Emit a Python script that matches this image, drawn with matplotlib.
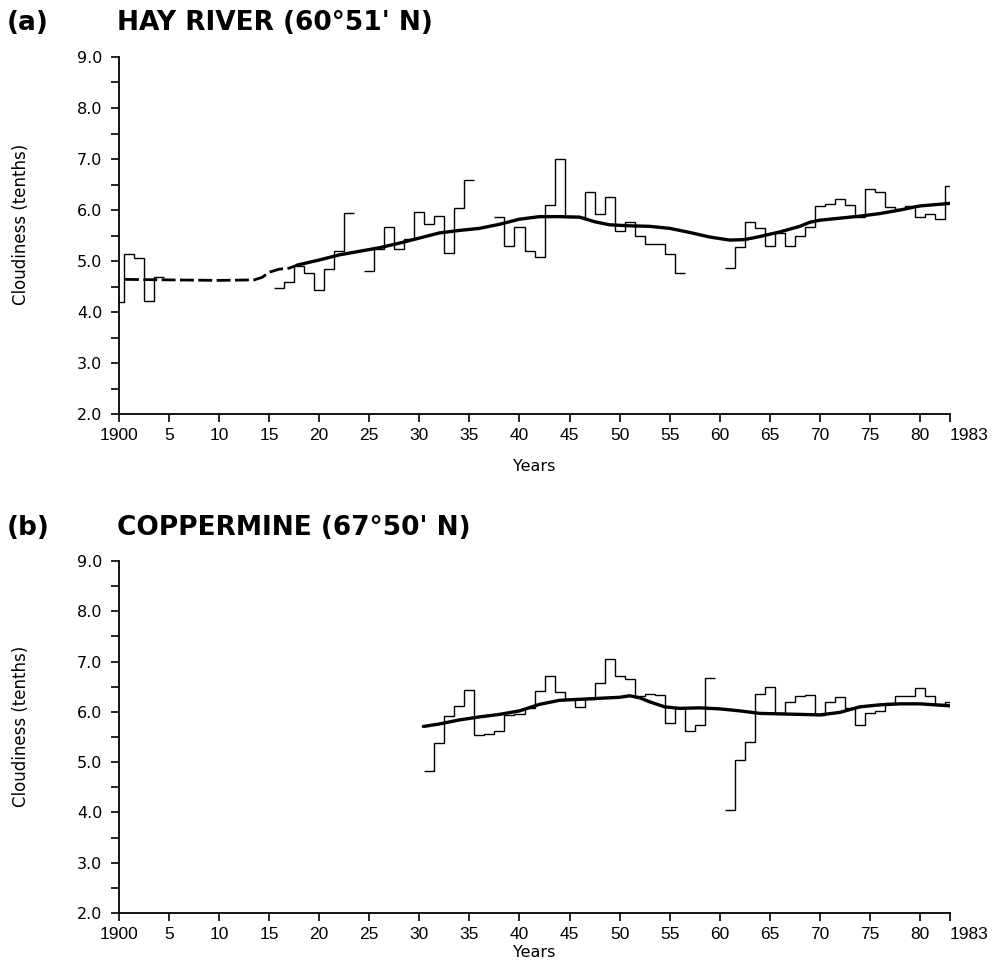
import numpy as np
import matplotlib
matplotlib.use("Agg")
from matplotlib import pyplot as plt
from matplotlib.ticker import MultipleLocator

plt.rcParams['font.family'] = ['Liberation Sans', 'DejaVu Sans']

# ---- (a) Hay River: annual cloudiness (tenths), None = no record
hay_years = list(range(1900, 1984))
hay_values = [
    4.19, 5.13, 5.06, 4.22, 4.68,                                  # 1900-1904
    None, None, None, None, None, None, None, None, None, None, None,  # 1905-1915
    4.47, 4.58, 4.90, 4.76, 4.44, 4.84, 5.20, 5.95,                # 1916-1923
    None,                                                          # 1924
    4.80, 5.23, 5.66, 5.23, 5.44, 5.96, 5.73, 5.89, 5.16, 6.04, 6.58,  # 1925-1935
    None, None,                                                    # 1936-1937
    5.87, 5.30, 5.66, 5.20, 5.08, 6.10, 7.00, 5.87, 5.87, 6.35, 5.92,  # 1938-1948
    6.25,                                                          # 1949
    5.59, 5.77, 5.49, 5.33, 5.33, 5.13, 4.76,                      # 1950-1956
    None, None, None, None,                                        # 1957-1960
    4.87, 5.28, 5.77, 5.64, 5.29, 5.54, 5.29, 5.49, 5.66, 6.08,    # 1961-1970
    6.12, 6.21, 6.10, 5.87, 6.41, 6.36, 6.05, 6.02, 6.08, 5.87,    # 1971-1980
    5.93, 5.82, 6.48,                                              # 1981-1983
]
# smoothed trend (solid) and estimated trend (dashed)
hay_trend_x = [1917.8, 1920, 1922, 1924, 1926, 1928, 1930, 1932, 1934, 1936,
               1938, 1940, 1942, 1944, 1946, 1947.5, 1949, 1951, 1953, 1955,
               1957, 1959, 1961, 1962.5, 1964, 1966, 1968, 1969, 1970, 1972,
               1974, 1976, 1978, 1980, 1983]
hay_trend_y = [4.92, 5.02, 5.12, 5.19, 5.26, 5.35, 5.45, 5.55, 5.60, 5.64,
               5.72, 5.82, 5.87, 5.87, 5.86, 5.77, 5.71, 5.69, 5.68, 5.64,
               5.56, 5.47, 5.41, 5.42, 5.48, 5.57, 5.68, 5.76, 5.80, 5.84,
               5.88, 5.93, 6.00, 6.08, 6.13]
hay_dash_x = [1900.6, 1905, 1910, 1913.5, 1914.3, 1915, 1916, 1917, 1917.8]
hay_dash_y = [4.64, 4.63, 4.62, 4.63, 4.68, 4.78, 4.84, 4.86, 4.92]

# ---- (b) Coppermine
cop_years = list(range(1931, 1984))
cop_values = [
    4.83, 5.38, 5.92, 6.12, 6.44, 5.55, 5.57, 5.61, 5.93, 5.95,    # 1931-1940
    6.08, 6.41, 6.72, 6.39, 6.26, 6.09, 6.26, 6.57, 7.05, 6.72,    # 1941-1950
    6.66, 6.31, 6.35, 6.33, 5.78, 6.07, 5.61, 5.74, 6.67,          # 1951-1959
    None,                                                          # 1960
    4.05, 5.04, 5.41, 6.36, 6.50, 5.97, 6.19, 6.32, 6.33, 5.94,    # 1961-1970
    6.20, 6.30, 6.07, 5.74, 5.97, 6.01, 6.17, 6.32, 6.32, 6.47,    # 1971-1980
    6.32, 6.16, 6.20,                                              # 1981-1983
]
cop_trend_x = [1930.4, 1932, 1934, 1936, 1938, 1940, 1942, 1944, 1946, 1948,
               1950, 1951, 1952, 1953, 1954.5, 1956, 1958, 1960, 1962, 1964,
               1966, 1968, 1970, 1972, 1974, 1976, 1978, 1980, 1983]
cop_trend_y = [5.71, 5.76, 5.84, 5.90, 5.95, 6.02, 6.15, 6.23, 6.25, 6.27,
               6.29, 6.32, 6.28, 6.20, 6.10, 6.07, 6.08, 6.06, 6.02, 5.97,
               5.96, 5.95, 5.94, 5.99, 6.10, 6.14, 6.16, 6.16, 6.12]

x_ticks = list(range(1900, 1981, 5)) + [1983]
x_labels = ['1900'] + [str(t - 1900) for t in range(1905, 1981, 5)] + ['1983']


def draw_steps(ax, years, values):
    # each year is one flat step centred on the year; gaps break the line
    run_y, run_v = [], []
    for yr, v in list(zip(years, values)) + [(None, None)]:
        if v is None:
            if run_v:
                edges = [y - 0.5 for y in run_y] + [run_y[-1] + 0.5]
                ax.stairs(run_v, edges, baseline=None, color='black', lw=1.0)
            run_y, run_v = [], []
        else:
            run_y.append(yr)
            run_v.append(v)


def style_axes(ax, years_y):
    ax.set_xlim(1900, 1983)
    ax.set_ylim(2.0, 9.0)
    for s in ['top', 'right']:
        ax.spines[s].set_visible(False)
    for s in ['left', 'bottom']:
        ax.spines[s].set_linewidth(1.3)
    ax.set_xticks(x_ticks)
    ax.set_xticklabels(x_labels, family=['Liberation Sans Narrow', 'Liberation Sans'])
    ax.get_xticklabels()[-1].set_horizontalalignment('left')
    ax.yaxis.set_major_locator(MultipleLocator(1.0))
    ax.yaxis.set_minor_locator(MultipleLocator(0.5))
    ax.yaxis.set_major_formatter('{x:.1f}')
    for lab in ax.get_yticklabels():
        lab.set_family('DejaVu Sans')
    ax.tick_params(axis='y', which='both', direction='out', length=6, width=1.2,
                   labelsize=11.5, pad=6)
    ax.tick_params(axis='x', direction='out', length=6, width=1.2,
                   labelsize=12.5, pad=4)
    ax.set_ylabel('Cloudiness (tenths)', fontsize=12, family='DejaVu Sans')
    ax.yaxis.set_label_coords(-0.107, 0.53)
    ax.set_xlabel('Years', fontsize=11.5, family='DejaVu Sans')
    ax.xaxis.set_label_coords(0.5, years_y)


fig = plt.figure(figsize=(9.95, 9.76), dpi=100)
ax1 = fig.add_axes([0.1196, 0.5758, 0.8352, 0.3658])
ax2 = fig.add_axes([0.1196, 0.0645, 0.8352, 0.3607])

# panel (a)
draw_steps(ax1, hay_years, hay_values)
ax1.plot(hay_trend_x, hay_trend_y, color='black', lw=2.4, solid_capstyle='round')
ax1.plot(hay_dash_x, hay_dash_y, color='black', lw=2.0, dashes=(5, 1.6))
style_axes(ax1, -0.125)

# panel (b)
draw_steps(ax2, cop_years, cop_values)
ax2.plot(cop_trend_x, cop_trend_y, color='black', lw=2.4, solid_capstyle='round')
style_axes(ax2, -0.09)

title_font = dict(fontsize=19, fontweight='bold', va='center', family='DejaVu Sans')
fig.text(0.007, 0.9764, '(a)', **title_font)
fig.text(0.118, 0.9764, "HAY RIVER (60\u00b051' N)", **title_font)
fig.text(0.007, 0.459, '(b)', **title_font)
fig.text(0.118, 0.459, "COPPERMINE (67\u00b050' N)", **title_font)

fig.savefig('out.png', dpi=100)
